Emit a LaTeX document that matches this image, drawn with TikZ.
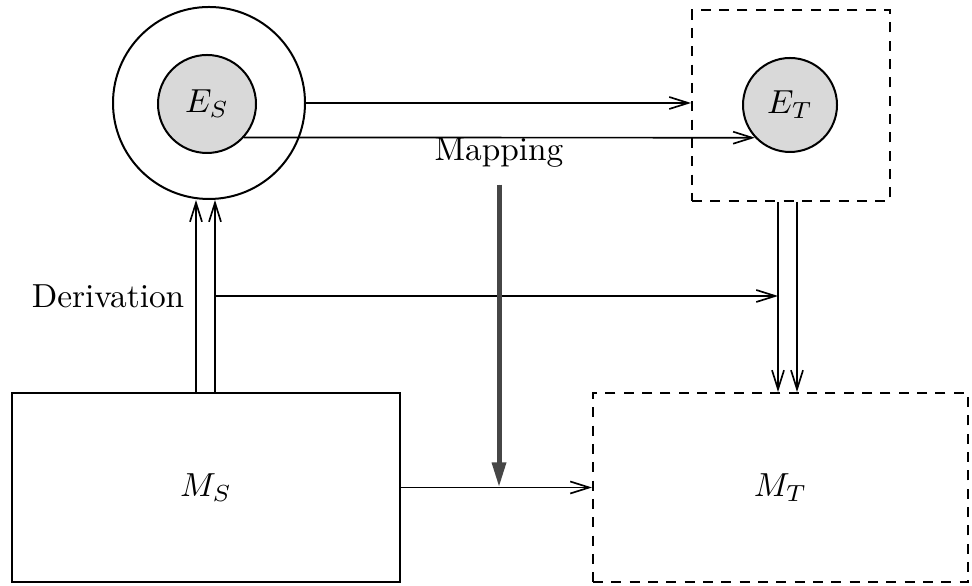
\documentclass[tikz,border=0pt]{standalone}
\usepackage{amsmath}
\usepackage{tikz}
\usetikzlibrary{arrows.meta,calc}

\begin{document}
\begin{tikzpicture}[x=0.3pt, y=-0.3pt, every node/.style={font=\normalsize},
    arr/.style={-{Straight Barb[length=5.7pt,width=3.6pt]}, line width=0.5pt},
    bigarr/.style={-{Triangle[length=7.5pt,width=4pt]}, line width=1.5pt, draw=gray!55!black, fill=gray!55!black},
    sbox/.style={draw, line width=0.6pt, inner sep=0pt},
    dbox/.style={draw, dash pattern=on 3pt off 2.5pt, line width=0.6pt, inner sep=0pt},
    ball/.style={circle, draw, line width=0.6pt, fill=gray!30, inner sep=0pt}]
  \useasboundingbox (0,0) rectangle (972,586);
  % source side
  \node[sbox, circle, minimum size=57.6pt] (ESo) at (209,103) {};
  \node[ball, minimum size=29.4pt] (ESi) at (207,104) {$E_S$};
  \node[sbox, minimum width=116.4pt, minimum height=56.7pt] (MS) at (206,487.5) {$M_S$};
  % target side
  \node[dbox, minimum width=59.4pt, minimum height=57.3pt] (ETbox) at (791,105.5) {};
  \node[ball, minimum size=28.2pt] (ETc) at (790,105) {$E_T$};
  \node[dbox, minimum width=112.5pt, minimum height=56.7pt] (MT) at (780.5,487.5) {$M_T$};
  \coordinate (dL) at (196,0);
  \coordinate (dR) at (215,0);
  \coordinate (tL) at (778,0);
  \coordinate (tR) at (797,0);
  \node[left] (deriv) at (196,296) {Derivation};
  \node (map) at (499,153) {Mapping};
  \draw[arr] (ESo.east) -- (ESo.east -| ETbox.west);
  \draw[arr] (ESi.-42) -- (ETc.223);
  \draw[arr] (MS.north -| dL) -- (ESo.south -| dL);
  \draw[arr] (MS.north -| dR) -- (ESo.south -| dR);
  \draw[arr] (deriv.east -| dR) -- (deriv.east -| tL);
  \draw[arr] (ETbox.south -| tL) -- (MT.north -| tL);
  \draw[arr] (ETbox.south -| tR) -- (MT.north -| tR);
  \draw[arr] (MS.east) -- (MT.west);
  \draw[bigarr] ([yshift=-1.5pt]map.south) -- (map.south |- MS.east);
\end{tikzpicture}
\end{document}
